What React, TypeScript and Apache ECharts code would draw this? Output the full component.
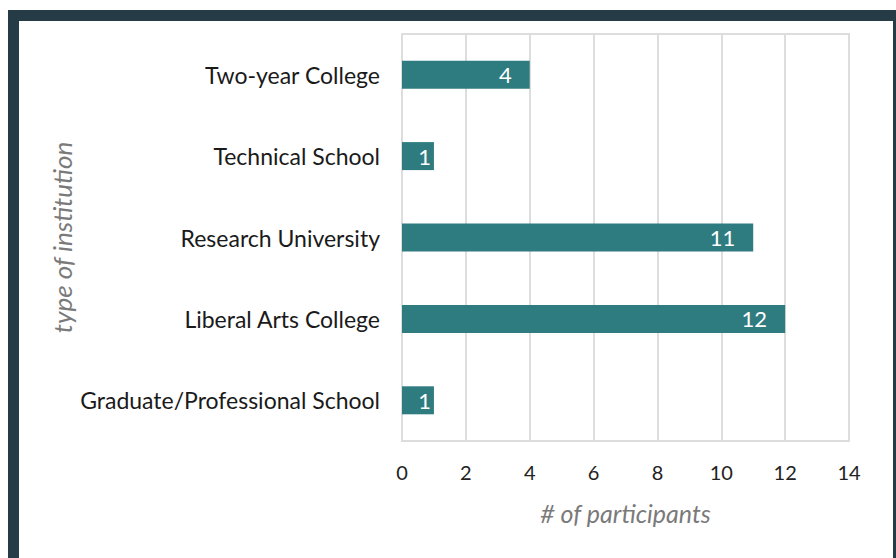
import React, { useEffect, useRef } from "react";
import * as echarts from "echarts";

const categories = [
  "Graduate/Professional School",
  "Liberal Arts College",
  "Research University",
  "Technical School",
  "Two-year College",
];
const participants = [1, 12, 11, 1, 4];
const xTicks = { min: 0, max: 14, interval: 2 };

const BORDER = "#253b46";
const BAR = "#2e7b80";
const FONT = "Lato, 'Open Sans', sans-serif";

export default function App() {
  const ref = useRef<HTMLDivElement>(null);
  useEffect(() => {
    document.body.style.margin = "0";
    const chart = echarts.init(ref.current!, null, { renderer: "svg" });
    chart.setOption({
      animation: false,
      backgroundColor: "#ffffff",
      textStyle: { fontFamily: FONT },
      grid: { left: 402, right: 47, top: 34, bottom: 117, show: true, borderColor: "#dddddd", borderWidth: 2 },
      xAxis: {
        type: "value",
        min: xTicks.min,
        max: xTicks.max,
        interval: xTicks.interval,
        name: "# of participants",
        nameLocation: "middle",
        nameGap: 59,
        nameTextStyle: { fontFamily: FONT, fontStyle: "italic", fontSize: 25, color: "#7a7a7a" },
        axisLine: { show: false },
        axisTick: { show: false },
        axisLabel: { fontFamily: FONT, fontSize: 20, color: "#222", margin: 21 },
        splitLine: { lineStyle: { color: "#dddddd", width: 2 } },
      },
      yAxis: {
        type: "category",
        data: categories,
        name: "type of institution",
        nameLocation: "middle",
        nameGap: 327,
        nameRotate: 90,
        nameTextStyle: { fontFamily: FONT, fontStyle: "italic", fontSize: 26, color: "#7a7a7a" },
        axisLine: { show: true, lineStyle: { color: "#dddddd", width: 2 } },
        axisTick: { show: false },
        axisLabel: { fontFamily: FONT, fontSize: 23, color: "#1a1a1a", margin: 22 },
        splitLine: { show: false },
      },
      series: [
        {
          type: "bar",
          barWidth: 28,
          itemStyle: { color: BAR },
          data: participants.map((v) => ({
            value: v,
            label: { distance: v < 2 ? 3 : 18 },
          })),
          label: {
            show: true,
            position: "insideRight",
            color: "#ffffff",
            fontFamily: FONT,
            fontSize: 22,
          },
        },
      ],
      graphic: [
        { type: "rect", shape: { x: 8, y: 10, width: 888, height: 11 }, style: { fill: BORDER }, silent: true },
        { type: "rect", shape: { x: 8, y: 10, width: 11, height: 548 }, style: { fill: BORDER }, silent: true },
        { type: "rect", shape: { x: 893, y: 10, width: 3, height: 548 }, style: { fill: BORDER }, silent: true },
      ],
    });
    return () => chart.dispose();
  }, []);
  return <div ref={ref} style={{ position: "fixed", left: 0, top: 0, width: 896, height: 558 }} />;
}
